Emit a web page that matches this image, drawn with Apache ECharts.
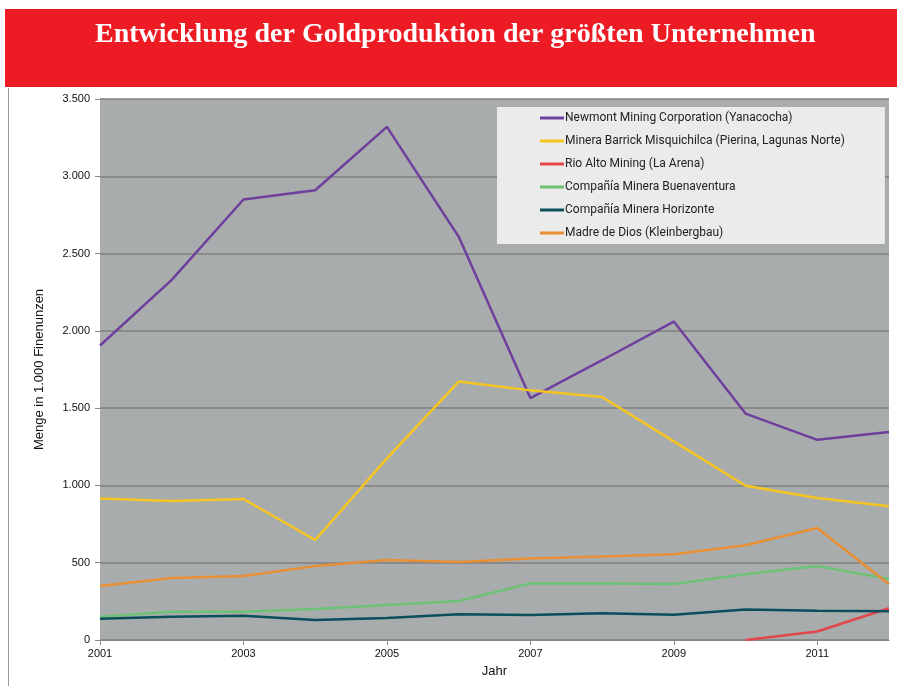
<!DOCTYPE html>
<html>
<head>
<meta charset="utf-8">
<script src="https://cdn.jsdelivr.net/npm/echarts@6/dist/echarts.min.js"></script>
<style>
  html, body { margin: 0; padding: 0; background: #fff; }
  #chart { width: 897px; height: 686px; }
</style>
</head>
<body>
<div id="chart"></div>
<script>
const years = ['2001', '2002', '2003', '2004', '2005', '2006', '2007', '2008', '2009', '2010', '2011', '2012'];

const newmont = [1905, 2330, 2850, 2910, 3320, 2610, 1565, 1810, 2060, 1465, 1295, 1345];
const barrick = [915, 900, 912, 647, 1175, 1672, 1615, 1572, 1285, 998, 918, 865];
const rioAlto = [null, null, null, null, null, null, null, null, null, 0, 55, 205];
const buenaventura = [150, 182, 183, 200, 226, 252, 365, 365, 362, 425, 478, 395];
const horizonte = [137, 150, 157, 129, 142, 167, 162, 173, 164, 198, 190, 186];
const madreDeDios = [350, 401, 414, 478, 517, 505, 528, 541, 555, 613, 724, 360];

const yTicks = [0, 500, 1000, 1500, 2000, 2500, 3000, 3500];

const seriesDefs = [
  { name: 'Newmont Mining Corporation (Yanacocha)', data: newmont, color: '#6f3f9e' },
  { name: 'Minera Barrick Misquichilca (Pierina, Lagunas Norte)', data: barrick, color: '#f6c520' },
  { name: 'Rio Alto Mining (La Arena)', data: rioAlto, color: '#e2474a' },
  { name: 'Compañía Minera Buenaventura', data: buenaventura, color: '#6dc175' },
  { name: 'Compañía Minera Horizonte', data: horizonte, color: '#0b4f5c' },
  { name: 'Madre de Dios (Kleinbergbau)', data: madreDeDios, color: '#e88f34' }
];

const chart = echarts.init(document.getElementById('chart'));

const fmt = v => String(v).replace(/\B(?=(\d{3})+(?!\d))/g, '.');

chart.setOption({
  backgroundColor: '#ffffff',
  animation: false,
  graphic: [
    { type: 'rect', left: 5, top: 9, shape: { width: 892, height: 78 }, style: { fill: '#ed1c24' } },
    { type: 'line', shape: { x1: 8.5, y1: 88, x2: 8.5, y2: 686 }, style: { stroke: '#9a9a9a', lineWidth: 1 } },
    {
      type: 'text', left: 95, top: 21,
      style: {
        text: 'Entwicklung der Goldproduktion der größten Unternehmen',
        fill: '#ffffff', font: 'bold 28px "Liberation Serif", "DejaVu Serif", serif'
      }
    }
  ],
  legend: {
    orient: 'vertical',
    left: 497, top: 107,
    itemWidth: 24, itemHeight: 3, itemGap: 9,
    icon: 'rect',
    backgroundColor: '#ebebeb',
    padding: [4, 40, 4, 43],
    textStyle: { fontFamily: 'Roboto, "DejaVu Sans", sans-serif', fontSize: 12, lineHeight: 14, color: '#222', padding: [0, 0, 0, -4] },
    data: seriesDefs.map(s => s.name)
  },
  grid: { left: 100, right: 8, top: 99, bottom: 46, show: true, backgroundColor: '#a9acad', borderWidth: 0 },
  xAxis: {
    type: 'category',
    data: years,
    boundaryGap: false,
    name: 'Jahr',
    nameLocation: 'middle',
    nameGap: 25,
    nameTextStyle: { fontFamily: '"Liberation Sans", Arial, sans-serif', fontSize: 13, color: '#111' },
    axisLine: { lineStyle: { color: '#8a8a8a', width: 1 } },
    axisTick: { interval: 1, length: 5, lineStyle: { color: '#8a8a8a' } },
    axisLabel: { interval: 1, margin: 8, fontFamily: '"Liberation Sans", Arial, sans-serif', fontSize: 11, color: '#111' }
  },
  yAxis: {
    type: 'value',
    min: yTicks[0], max: yTicks[yTicks.length - 1], interval: 500,
    name: 'Menge in 1.000 Finenunzen',
    nameLocation: 'middle',
    nameGap: 54,
    nameTextStyle: { fontFamily: '"Liberation Sans", Arial, sans-serif', fontSize: 13, color: '#111' },
    axisLine: { show: false },
    axisTick: { show: true, length: 5, lineStyle: { color: '#8a8a8a' } },
    axisLabel: { margin: 10, formatter: fmt, fontFamily: '"Liberation Sans", Arial, sans-serif', fontSize: 11, color: '#111' },
    splitLine: { lineStyle: { color: '#7f7f7f', width: 1.5 } }
  },
  series: seriesDefs.map(s => ({
    name: s.name,
    type: 'line',
    data: s.data,
    symbol: 'none',
    connectNulls: false,
    lineStyle: { color: s.color, width: 2.5 },
    itemStyle: { color: s.color }
  }))
});
</script>
</body>
</html>
